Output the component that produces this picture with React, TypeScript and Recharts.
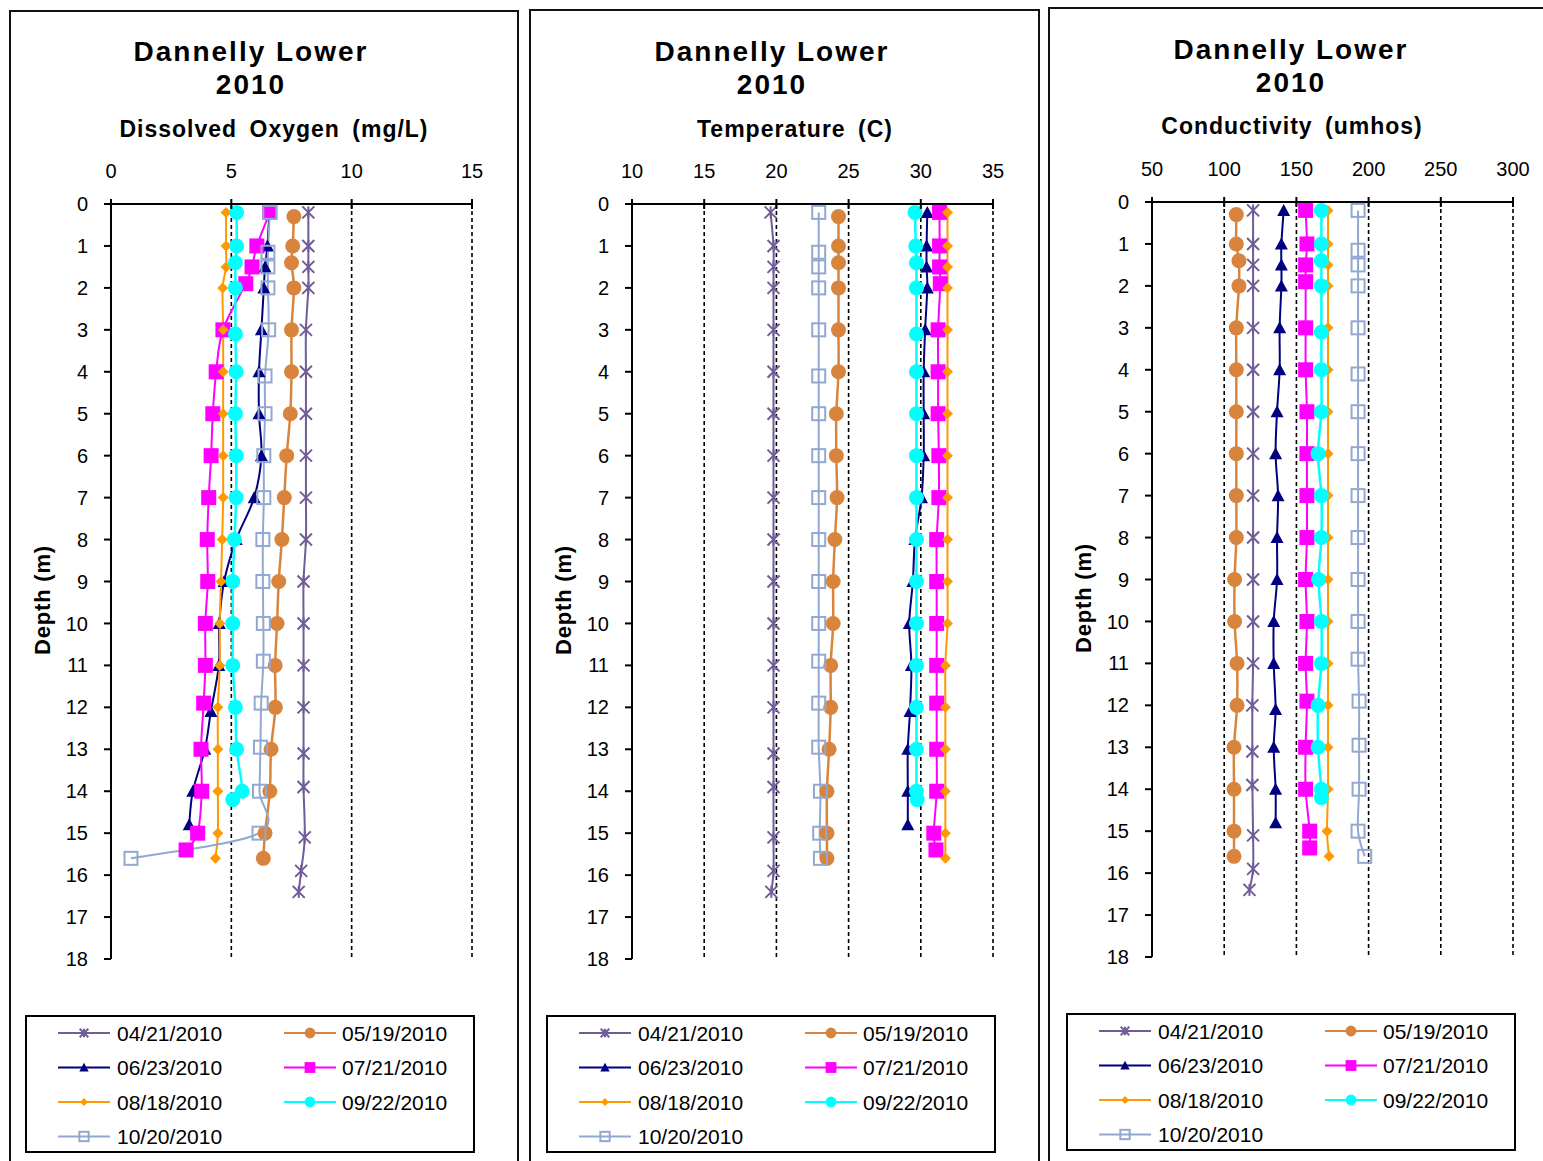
import React from 'react';
import { LineChart, Line, XAxis, YAxis, CartesianGrid, Legend, Label } from 'recharts';

const FONT = '"Liberation Sans", Arial, sans-serif';

// ---------- series meta ----------
const dates = ['04/21/2010', '05/19/2010', '06/23/2010', '07/21/2010', '08/18/2010', '09/22/2010', '10/20/2010'];
const colors = ['#705C97', '#D9843D', '#000080', '#FF00FF', '#FF9900', '#00FFFF', '#92A8D0'];
const markers = ['star', 'circle', 'triangle', 'square', 'diamond', 'circle', 'open'];
const lineWidths = [2, 2.5, 2, 2, 2, 2.5, 2];

// ---------- depths (m) per sampling date ----------
const depth0421 = [0.2, 1, 1.5, 2, 3, 4, 5, 6, 7, 8, 9, 10, 11, 12, 13.1, 13.9, 15.1, 15.9, 16.4];
const depth0519 = [0.3, 1, 1.4, 2, 3, 4, 5, 6, 7, 8, 9, 10, 11, 12, 13, 14, 15, 15.6];
const depth0623 = [0.2, 1, 1.5, 2, 3, 4, 5, 6, 7, 8, 9, 10, 11, 12.1, 13, 14, 14.8];
const depth0721 = [0.2, 1, 1.5, 1.9, 3, 4, 5, 6, 7, 8, 9, 10, 11, 11.9, 13, 14, 15, 15.4];
const depth0818 = [0.2, 1, 1.5, 2, 3, 4, 5, 6, 7, 8, 9, 10, 11, 12, 13, 14, 15, 15.6];
const depth0922 = [0.2, 1, 1.4, 2, 3.1, 4, 5, 6, 7, 8, 9, 10, 11, 12, 13, 14, 14.2];
const depth1020 = [0.2, 1.15, 1.5, 2, 3, 4.1, 5, 6, 7, 8, 9, 10, 10.9, 11.9, 12.95, 14, 15, 15.6];
const depthSets = [depth0421, depth0519, depth0623, depth0721, depth0818, depth0922, depth1020];

// ---------- Dissolved oxygen (mg/L) ----------
const do0421 = [8.2, 8.2, 8.2, 8.2, 8.1, 8.1, 8.1, 8.1, 8.1, 8.1, 8.0, 8.0, 8.0, 8.0, 8.0, 8.0, 8.05, 7.9, 7.8];
const do0519 = [7.6, 7.55, 7.5, 7.6, 7.5, 7.5, 7.45, 7.3, 7.2, 7.1, 6.97, 6.9, 6.82, 6.83, 6.65, 6.6, 6.4, 6.33];
const do0623 = [6.58, 6.5, 6.4, 6.35, 6.25, 6.15, 6.15, 6.25, 5.95, 5.2, 4.7, 4.5, 4.48, 4.15, 3.9, 3.4, 3.25];
const do0721 = [6.6, 6.06, 5.86, 5.6, 4.65, 4.37, 4.23, 4.16, 4.06, 4.0, 4.02, 3.92, 3.92, 3.85, 3.74, 3.77, 3.6, 3.12];
const do0818 = [4.78, 4.78, 4.78, 4.64, 4.66, 4.66, 4.66, 4.66, 4.66, 4.62, 4.57, 4.52, 4.52, 4.44, 4.44, 4.44, 4.44, 4.34];
const do0922 = [5.22, 5.22, 5.17, 5.17, 5.17, 5.2, 5.17, 5.2, 5.2, 5.13, 5.06, 5.06, 5.06, 5.17, 5.22, 5.45, 5.06];
const do1020 = [6.6, 6.52, 6.52, 6.52, 6.55, 6.4, 6.4, 6.35, 6.35, 6.31, 6.31, 6.33, 6.33, 6.24, 6.21, 6.17, 6.15, 0.83];

// ---------- Temperature (C) ----------
const t0421 = [19.6, 19.8, 19.8, 19.8, 19.8, 19.8, 19.8, 19.8, 19.8, 19.8, 19.8, 19.8, 19.8, 19.8, 19.8, 19.8, 19.8, 19.8, 19.65];
const t0519 = [24.3, 24.3, 24.3, 24.3, 24.3, 24.3, 24.15, 24.15, 24.2, 24.05, 23.93, 23.93, 23.76, 23.76, 23.65, 23.5, 23.5, 23.5];
const t0623 = [30.45, 30.4, 30.4, 30.45, 30.3, 30.2, 30.2, 30.2, 30.05, 29.6, 29.45, 29.2, 29.35, 29.25, 29.1, 29.1, 29.1];
const t0721 = [31.3, 31.3, 31.3, 31.35, 31.2, 31.2, 31.2, 31.25, 31.25, 31.1, 31.1, 31.1, 31.1, 31.1, 31.1, 31.1, 30.9, 31.05];
const t0818 = [31.85, 31.85, 31.85, 31.85, 31.85, 31.85, 31.85, 31.85, 31.85, 31.85, 31.85, 31.85, 31.7, 31.7, 31.7, 31.7, 31.7, 31.7];
const t0922 = [29.6, 29.65, 29.7, 29.7, 29.7, 29.7, 29.7, 29.7, 29.7, 29.7, 29.7, 29.7, 29.7, 29.7, 29.7, 29.7, 29.75];
const t1020 = [22.93, 22.93, 22.93, 22.93, 22.93, 22.93, 22.93, 22.93, 22.93, 22.93, 22.93, 22.93, 22.93, 22.93, 22.93, 23.05, 23.0, 23.05];

// ---------- Conductivity (umhos) ----------
const c0421 = [120, 120, 120, 120, 120, 120, 120, 120, 120, 120, 120, 120, 120, 119.5, 119.5, 119.5, 120, 120, 117.5];
const c0519 = [108.4, 108.4, 110.2, 110.2, 108.4, 108.4, 108.4, 108.4, 108.4, 108.4, 107.2, 107.2, 108.9, 108.9, 106.8, 106.8, 106.8, 106.8];
const c0623 = [141.2, 139.6, 139.6, 139.6, 138.4, 138.4, 136.6, 135.6, 137.3, 136.6, 136.6, 134.3, 134.3, 135.6, 134.3, 135.6, 135.6];
const c0721 = [156.4, 157.3, 156.4, 156.4, 156.4, 156.4, 157.3, 157.3, 157.3, 157.3, 156.4, 157.3, 156.4, 157.3, 156.4, 156.4, 159.2, 159.2];
const c0818 = [171.9, 171.9, 171.9, 171.9, 171.9, 171.9, 171.9, 171.9, 171.9, 171.9, 171.9, 171.9, 171.9, 171.9, 171.9, 171.9, 171.2, 172.6];
const c0922 = [167.3, 167.3, 167.3, 167.3, 167.3, 167.3, 167.3, 165, 167.3, 167.3, 165.4, 167.3, 167.3, 165, 165, 167.3, 167.3];
const c1020 = [192.7, 192.7, 192.7, 192.7, 192.7, 192.7, 192.7, 192.7, 192.7, 192.7, 192.7, 192.7, 192.7, 193.4, 193.4, 193.4, 192.7, 197.3];

// ---------- axis ticks ----------
const depthTicks = [0, 1, 2, 3, 4, 5, 6, 7, 8, 9, 10, 11, 12, 13, 14, 15, 16, 17, 18];
const doTicks = [0, 5, 10, 15];
const tempTicks = [10, 15, 20, 25, 30, 35];
const condTicks = [50, 100, 150, 200, 250, 300];

const buildSeries = (vals: number[][]) =>
  vals.map((arr, i) => depthSets[i].map((d, j) => ({ d, v: arr[j] })));

// Excel-like smoothing (Catmull-Rom style bezier)
const excelSmooth = (context: any) => {
  let pts: number[][] = [];
  return {
    areaStart() {},
    areaEnd() {},
    lineStart() {
      pts = [];
    },
    point(x: number, y: number) {
      pts.push([+x, +y]);
    },
    lineEnd() {
      const n = pts.length;
      if (!n) return;
      context.moveTo(pts[0][0], pts[0][1]);
      for (let i = 0; i < n - 1; i++) {
        const p0 = pts[i > 0 ? i - 1 : i];
        const p1 = pts[i];
        const p2 = pts[i + 1];
        const p3 = pts[i + 2 < n ? i + 2 : i + 1];
        context.bezierCurveTo(
          p1[0] + (p2[0] - p0[0]) / 6,
          p1[1] + (p2[1] - p0[1]) / 6,
          p2[0] - (p3[0] - p1[0]) / 6,
          p2[1] - (p3[1] - p1[1]) / 6,
          p2[0],
          p2[1]
        );
      }
    },
  };
};

function Marker({ shape, cx, cy, color, k = 1 }: { shape: string; cx: number; cy: number; color: string; k?: number }) {
  switch (shape) {
    case 'star': {
      const s = 6 * k;
      return (
        <g stroke={color} strokeWidth={2}>
          <line x1={cx - s} y1={cy - s} x2={cx + s} y2={cy + s} />
          <line x1={cx - s} y1={cy + s} x2={cx + s} y2={cy - s} />
          <line x1={cx} y1={cy - s} x2={cx} y2={cy + s} />
        </g>
      );
    }
    case 'circle':
      return <circle cx={cx} cy={cy} r={7.5 * k} fill={color} />;
    case 'triangle': {
      const s = 6.5 * k;
      return <polygon points={`${cx},${cy - s} ${cx + s},${cy + s * 0.85} ${cx - s},${cy + s * 0.85}`} fill={color} />;
    }
    case 'square': {
      const s = 7.5 * k;
      return <rect x={cx - s} y={cy - s} width={2 * s} height={2 * s} fill={color} />;
    }
    case 'diamond': {
      const s = 5.5 * k;
      return <polygon points={`${cx},${cy - s} ${cx + s},${cy} ${cx},${cy + s} ${cx - s},${cy}`} fill={color} />;
    }
    case 'open': {
      const s = 6.5 * k;
      return <rect x={cx - s} y={cy - s} width={2 * s} height={2 * s} fill="none" stroke={color} strokeWidth={2} />;
    }
    default:
      return null;
  }
}

const makeDot = (shape: string, color: string) => (p: any) => {
  if (p.cx == null || p.cy == null) return <g key={`e-${p.index}`} />;
  return (
    <g key={`m-${p.index}`}>
      <Marker shape={shape} cx={p.cx} cy={p.cy} color={color} />
    </g>
  );
};

const XTick = (props: any) => {
  const { x, y, payload } = props;
  const ay = y + 26;
  return (
    <g>
      <line x1={x} x2={x} y1={ay - 5} y2={ay + 5} stroke="#000" strokeWidth={2} />
      <text x={x} y={y} textAnchor="middle" fontSize={20} fontFamily={FONT} fill="#000">
        {payload.value}
      </text>
    </g>
  );
};

const LegendBox = () => {
  const rows = [16, 50.5, 85, 119.5];
  const cols = [
    { l1: 31, l2: 83, m: 57, t: 90 },
    { l1: 257, l2: 309, m: 283, t: 315 },
  ];
  return (
    <div
      style={{
        boxSizing: 'border-box',
        width: 450,
        height: 138,
        border: '2px solid #000',
        background: '#fff',
        position: 'relative',
      }}
    >
      <svg width={446} height={134} style={{ position: 'absolute', left: 0, top: 0 }}>
        {dates.map((name, i) => {
          const r = rows[Math.floor(i / 2)];
          const c = cols[i % 2];
          return (
            <g key={name}>
              <line x1={c.l1} x2={c.l2} y1={r} y2={r} stroke={colors[i]} strokeWidth={2} />
              <Marker shape={markers[i]} cx={c.m} cy={r} color={colors[i]} k={0.72} />
              <text x={c.t} y={r + 7.5} fontSize={21} fontFamily={FONT} fill="#000">
                {name}
              </text>
            </g>
          );
        })}
      </svg>
    </div>
  );
};

type PanelProps = {
  left: number;
  top: number;
  series: { d: number; v: number }[][];
  domain: [number, number];
  ticks: number[];
};

function Panel({ left, top, series, domain, ticks }: PanelProps) {
  return (
    <div style={{ position: 'absolute', left, top }}>
      <LineChart
        width={520}
        height={1161}
        layout="vertical"
        margin={{ top: 174, left: 71, right: 48, bottom: 202 }}
      >
        <CartesianGrid horizontal={false} stroke="#000" strokeDasharray="4 3" strokeWidth={1.6} />
        <XAxis
          type="number"
          orientation="top"
          domain={domain}
          ticks={ticks}
          interval={0}
          height={30}
          tickSize={0}
          tickMargin={26}
          tickLine={false}
          axisLine={{ stroke: '#000', strokeWidth: 2 }}
          tick={<XTick />}
          allowDataOverflow
        />
        <YAxis
          type="number"
          dataKey="d"
          domain={[0, 18]}
          ticks={depthTicks}
          interval={0}
          width={40}
          tickSize={7}
          tickMargin={16}
          tickLine={{ stroke: '#000', strokeWidth: 2 }}
          axisLine={{ stroke: '#000', strokeWidth: 2 }}
          tick={{ fill: '#000', fontSize: 20, fontFamily: FONT }}
          allowDataOverflow
        >
          <Label
            content={() => (
              <text
                x={42}
                y={600}
                transform="rotate(-90, 42, 600)"
                textAnchor="middle"
                dominantBaseline="central"
                fontSize={22}
                fontWeight="bold"
                fontFamily={FONT}
                letterSpacing={0.8}
                fill="#000"
              >
                Depth (m)
              </text>
            )}
          />
        </YAxis>
        {series.map((data, i) => (
          <Line
            key={dates[i]}
            name={dates[i]}
            data={data}
            dataKey="v"
            type={excelSmooth as any}
            stroke={colors[i]}
            strokeWidth={lineWidths[i]}
            dot={makeDot(markers[i], colors[i])}
            activeDot={false}
            isAnimationActive={false}
          />
        ))}
        <Legend
          layout="horizontal"
          verticalAlign="middle"
          align="center"
          wrapperStyle={{ position: 'absolute', left: 25, top: 1015, width: 450, height: 138 }}
          content={() => <LegendBox />}
        />
      </LineChart>
    </div>
  );
}

function Title({ cx, baseline, size, text, ls = 0, ws = 0 }: { cx: number; baseline: number; size: number; text: string; ls?: number; ws?: number }) {
  return (
    <div
      style={{
        position: 'absolute',
        left: cx - 300,
        width: 600,
        top: baseline - 0.8465 * size,
        textAlign: 'center',
        fontFamily: FONT,
        fontWeight: 'bold',
        fontSize: size,
        lineHeight: `${size}px`,
        letterSpacing: ls,
        wordSpacing: ws,
        whiteSpace: 'nowrap',
        color: '#000',
      }}
    >
      {text}
    </div>
  );
}

function Frame({ left, top, width }: { left: number; top: number; width: number }) {
  return (
    <div
      style={{
        position: 'absolute',
        left,
        top,
        width,
        height: 1400,
        boxSizing: 'border-box',
        border: '2px solid #111',
      }}
    />
  );
}

const doSeries = buildSeries([do0421, do0519, do0623, do0721, do0818, do0922, do1020]);
const tSeries = buildSeries([t0421, t0519, t0623, t0721, t0818, t0922, t1020]);
const cSeries = buildSeries([c0421, c0519, c0623, c0721, c0818, c0922, c1020]);

export default function App() {
  return (
    <div
      style={{
        position: 'absolute',
        left: 0,
        top: 0,
        width: 1543,
        height: 1161,
        overflow: 'hidden',
        background: '#fff',
      }}
    >
      <Frame left={9} top={10} width={510} />
      <Frame left={529} top={9} width={511} />
      <Frame left={1048} top={7} width={600} />

      <Title cx={251} baseline={62} size={28} ls={2} text="Dannelly Lower" />
      <Title cx={251} baseline={95} size={28} ls={2} text="2010" />
      <Title cx={274} baseline={137} size={23} ls={1} ws={5} text="Dissolved Oxygen (mg/L)" />

      <Title cx={772} baseline={62} size={28} ls={2} text="Dannelly Lower" />
      <Title cx={772} baseline={95} size={28} ls={2} text="2010" />
      <Title cx={795} baseline={137} size={23} ls={1} ws={5} text="Temperature (C)" />

      <Title cx={1291} baseline={60} size={28} ls={2} text="Dannelly Lower" />
      <Title cx={1291} baseline={93} size={28} ls={2} text="2010" />
      <Title cx={1292} baseline={134} size={23} ls={1} ws={5} text="Conductivity (umhos)" />

      <Panel left={0} top={0} series={doSeries} domain={[0, 15]} ticks={doTicks} />
      <Panel left={521} top={0} series={tSeries} domain={[10, 35]} ticks={tempTicks} />
      <Panel left={1041} top={-2} series={cSeries} domain={[50, 300]} ticks={condTicks} />
    </div>
  );
}
